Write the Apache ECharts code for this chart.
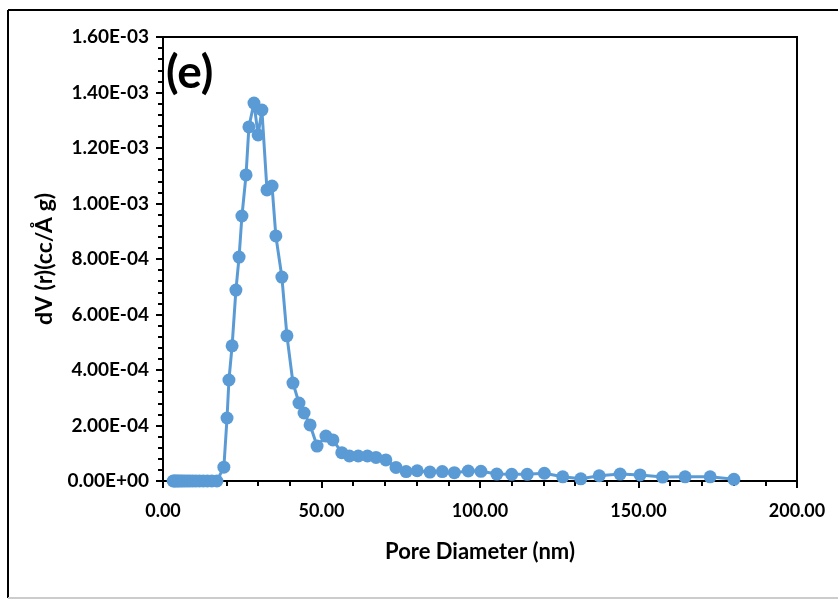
<!DOCTYPE html>
<html>
<head>
<meta charset="utf-8">
<script src="https://cdn.jsdelivr.net/npm/echarts@6/dist/echarts.min.js"></script>
<style>
html,body{margin:0;padding:0;background:#fff;}
#chart{width:838px;height:601px;}
</style>
</head>
<body>
<div id="chart"></div>
<script>
// Pore diameter (nm)
var poreDiameter = [3.2, 3.6, 4.0, 4.5, 5.0, 5.6, 6.2, 6.9, 7.7, 8.5, 9.4, 10.4, 11.5, 12.7, 14.0, 15.4, 17.0,
  19.2, 20.2, 20.8, 21.8, 23.0, 24.0, 24.9, 26.2, 27.1, 28.7, 30.0, 31.2, 32.8, 34.4, 35.6, 37.5, 39.1,
  41.0, 42.9, 44.5, 46.4, 48.6, 51.4, 53.6, 56.4, 58.8, 61.6, 64.5, 67.2, 70.3, 73.5, 76.7, 80.2, 84.2,
  88.1, 91.9, 96.3, 100.3, 105.3, 110.0, 114.9, 120.3, 126.1, 131.8, 137.6, 144.2, 150.5, 157.6, 164.7, 172.6, 180.1];
// dV(r) (cc/Å g)
var dV = [0, 0, 0, 0, 0, 0, 0, 0, 0, 0, 0, 0, 0, 0, 0, 0, 0,
  0.000050, 0.000227, 0.000364, 0.000487, 0.000688, 0.000807, 0.000955, 0.001103, 0.001276, 0.001362, 0.001247, 0.001337, 0.001049, 0.001063, 0.000883, 0.000735, 0.000523,
  0.000353, 0.000281, 0.000245, 0.000202, 0.000126, 0.000162, 0.000148, 0.000102, 0.000090, 0.000090, 0.000090, 0.000085, 0.000076, 0.000049, 0.000034, 0.000037, 0.000032,
  0.000034, 0.000030, 0.000036, 0.000035, 0.000025, 0.000024, 0.000024, 0.000028, 0.000015, 0.000008, 0.000019, 0.000025, 0.000022, 0.000014, 0.000015, 0.000015, 0.000006];
var yTickLabels = ['0.00E+00','2.00E-04','4.00E-04','6.00E-04','8.00E-04','1.00E-03','1.20E-03','1.40E-03','1.60E-03'];
var xTickLabels = ['0.00','50.00','100.00','150.00','200.00'];

var seriesData = poreDiameter.map(function(x, i){ return [x, dV[i]]; });
var FONT = 'Lato, "Open Sans", sans-serif';
var chart = echarts.init(document.getElementById('chart'), null, {renderer:'canvas'});
chart.setOption({
  animation: false,
  backgroundColor: '#ffffff',
  grid: {left: 163, top: 37, right: 41, bottom: 120, show: true, borderColor: '#000', borderWidth: 2, backgroundColor: 'transparent'},
  graphic: [
    {type:'line', shape:{x1:8, y1:10, x2:838, y2:10}, style:{stroke:'#000', lineWidth:2}},
    {type:'line', shape:{x1:8, y1:10, x2:8, y2:598}, style:{stroke:'#000', lineWidth:2}},
    {type:'line', shape:{x1:8, y1:598, x2:838, y2:598}, style:{stroke:'#ccc', lineWidth:2}},
    {type:'text', left: 166, top: 50, style:{text:'(e)', font:'bold 46px ' + FONT, fill:'#000'}}
  ],
  xAxis: {
    type: 'value', min: 0, max: 200, interval: 50,
    name: 'Pore Diameter (nm)', nameLocation: 'middle', nameGap: 60,
    nameTextStyle: {fontFamily: FONT, fontWeight: 'bold', fontSize: 22, color: '#000'},
    axisLine: {show: true, lineStyle: {color: '#000', width: 2}},
    axisTick: {show: true, inside: false, length: 7, lineStyle: {color: '#000', width: 2}},
    minorTick: {show: true, splitNumber: 5, length: 5, lineStyle: {color: '#000', width: 2}},
    splitLine: {show: false},
    axisLabel: {margin: 21, fontFamily: FONT, fontWeight: 'bold', fontSize: 18, color: '#000',
      formatter: function(v){ return xTickLabels[Math.round(v/50)]; }}
  },
  yAxis: {
    type: 'value', min: 0, max: 0.0016, interval: 0.0002,
    name: 'dV (r)(cc/Å g)', nameLocation: 'middle', nameGap: 106,
    nameTextStyle: {fontFamily: FONT, fontWeight: 'bold', fontSize: 23, color: '#000'},
    axisLine: {show: true, lineStyle: {color: '#000', width: 2}},
    axisTick: {show: true, inside: false, length: 7, lineStyle: {color: '#000', width: 2}},
    minorTick: {show: true, splitNumber: 5, length: 5, lineStyle: {color: '#000', width: 2}},
    splitLine: {show: false},
    axisLabel: {margin: 14, fontFamily: FONT, fontWeight: 'bold', fontSize: 19, color: '#000',
      formatter: function(v){ return yTickLabels[Math.round(v/0.0002)]; }}
  },
  series: [{
    type: 'line', data: seriesData,
    symbol: 'circle', symbolSize: 13, showSymbol: true,
    lineStyle: {color: '#5B9BD5', width: 3},
    itemStyle: {color: '#5B9BD5'},
    clip: false
  }]
});
</script>
</body>
</html>
